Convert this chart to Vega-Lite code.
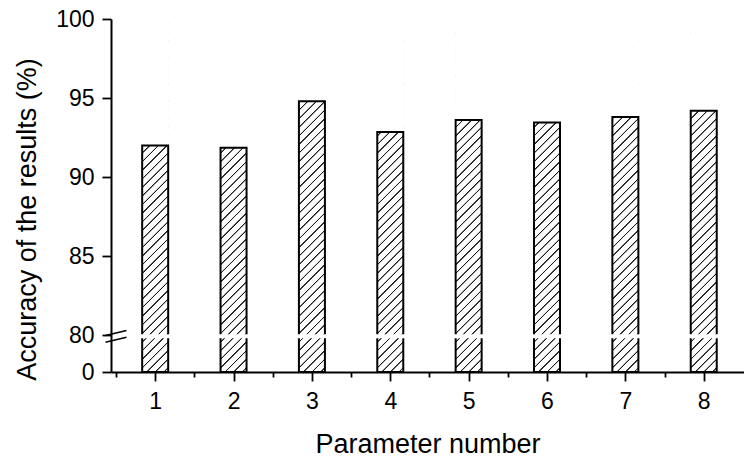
{
  "$schema": "https://vega.github.io/schema/vega-lite/v6.json",
  "width": 633,
  "height": 353,
  "autosize": {"type": "none"},
  "padding": {"left": 111, "top": 19, "right": 0, "bottom": 89},
  "background": "white",
  "config": {
    "view": {"stroke": null},
    "font": "Liberation Sans",
    "axis": {
      "domainColor": "black",
      "domainWidth": 2,
      "tickColor": "black",
      "tickWidth": 1.8,
      "labelColor": "black",
      "titleColor": "black",
      "labelFont": "Liberation Sans",
      "titleFont": "Liberation Sans",
      "titleFontWeight": "normal",
      "labelFontSize": 23,
      "titleFontSize": 27,
      "grid": false,
      "labelOverlap": false,
      "labelBound": false,
      "labelFlush": false
    }
  },
  "data": {
    "values": [
      {"param": 1, "acc": 92.0},
      {"param": 2, "acc": 91.85},
      {"param": 3, "acc": 94.8},
      {"param": 4, "acc": 92.85},
      {"param": 5, "acc": 93.6},
      {"param": 6, "acc": 93.45},
      {"param": 7, "acc": 93.8},
      {"param": 8, "acc": 94.2}
    ]
  },
  "encoding": {
    "x": {
      "field": "param",
      "type": "quantitative",
      "scale": {"domain": [0.5, 8.45], "nice": false, "zero": false},
      "axis": {
        "title": "Parameter number",
        "values": [0.5, 1, 1.5, 2, 2.5, 3, 3.5, 4, 4.5, 5, 5.5, 6, 6.5, 7, 7.5, 8],
        "labelExpr": "datum.value % 1 == 0 ? format(datum.value, 'd') : ''",
        "tickSize": {"condition": {"test": "datum.value % 1 == 0", "value": 9}, "value": 5},
        "labelBaseline": "alphabetic",
        "labelPadding": 27,
        "titleBaseline": "alphabetic",
        "titleY": 80
      }
    }
  },
  "layer": [
    {
      "mark": {
        "type": "bar",
        "width": 26,
        "fill": {
          "gradient": "linear",
          "x1": 0, "y1": 0, "x2": 0.081, "y2": 1.1,
          "stops": [
            {"offset": 0, "color": "#fff"},
            {"offset": 0.011, "color": "#fff"}, {"offset": 0.0125, "color": "#1a1a1a"}, {"offset": 0.0148, "color": "#1a1a1a"}, {"offset": 0.0163, "color": "#fff"},
            {"offset": 0.033, "color": "#fff"}, {"offset": 0.0345, "color": "#1a1a1a"}, {"offset": 0.0368, "color": "#1a1a1a"}, {"offset": 0.0383, "color": "#fff"},
            {"offset": 0.055, "color": "#fff"}, {"offset": 0.0565, "color": "#1a1a1a"}, {"offset": 0.0588, "color": "#1a1a1a"}, {"offset": 0.0603, "color": "#fff"},
            {"offset": 0.077, "color": "#fff"}, {"offset": 0.0785, "color": "#1a1a1a"}, {"offset": 0.0808, "color": "#1a1a1a"}, {"offset": 0.0823, "color": "#fff"},
            {"offset": 0.099, "color": "#fff"}, {"offset": 0.1005, "color": "#1a1a1a"}, {"offset": 0.1028, "color": "#1a1a1a"}, {"offset": 0.1043, "color": "#fff"},
            {"offset": 0.121, "color": "#fff"}, {"offset": 0.1225, "color": "#1a1a1a"}, {"offset": 0.1248, "color": "#1a1a1a"}, {"offset": 0.1263, "color": "#fff"},
            {"offset": 0.143, "color": "#fff"}, {"offset": 0.1445, "color": "#1a1a1a"}, {"offset": 0.1468, "color": "#1a1a1a"}, {"offset": 0.1483, "color": "#fff"},
            {"offset": 0.165, "color": "#fff"}, {"offset": 0.1665, "color": "#1a1a1a"}, {"offset": 0.1688, "color": "#1a1a1a"}, {"offset": 0.1703, "color": "#fff"},
            {"offset": 0.187, "color": "#fff"}, {"offset": 0.1885, "color": "#1a1a1a"}, {"offset": 0.1908, "color": "#1a1a1a"}, {"offset": 0.1923, "color": "#fff"},
            {"offset": 0.209, "color": "#fff"}, {"offset": 0.2105, "color": "#1a1a1a"}, {"offset": 0.2128, "color": "#1a1a1a"}, {"offset": 0.2143, "color": "#fff"},
            {"offset": 0.231, "color": "#fff"}, {"offset": 0.2325, "color": "#1a1a1a"}, {"offset": 0.2348, "color": "#1a1a1a"}, {"offset": 0.2363, "color": "#fff"},
            {"offset": 0.253, "color": "#fff"}, {"offset": 0.2545, "color": "#1a1a1a"}, {"offset": 0.2568, "color": "#1a1a1a"}, {"offset": 0.2583, "color": "#fff"},
            {"offset": 0.275, "color": "#fff"}, {"offset": 0.2765, "color": "#1a1a1a"}, {"offset": 0.2788, "color": "#1a1a1a"}, {"offset": 0.2803, "color": "#fff"},
            {"offset": 0.297, "color": "#fff"}, {"offset": 0.2985, "color": "#1a1a1a"}, {"offset": 0.3008, "color": "#1a1a1a"}, {"offset": 0.3023, "color": "#fff"},
            {"offset": 0.319, "color": "#fff"}, {"offset": 0.3205, "color": "#1a1a1a"}, {"offset": 0.3228, "color": "#1a1a1a"}, {"offset": 0.3243, "color": "#fff"},
            {"offset": 0.341, "color": "#fff"}, {"offset": 0.3425, "color": "#1a1a1a"}, {"offset": 0.3448, "color": "#1a1a1a"}, {"offset": 0.3463, "color": "#fff"},
            {"offset": 0.363, "color": "#fff"}, {"offset": 0.3645, "color": "#1a1a1a"}, {"offset": 0.3668, "color": "#1a1a1a"}, {"offset": 0.3683, "color": "#fff"},
            {"offset": 0.385, "color": "#fff"}, {"offset": 0.3865, "color": "#1a1a1a"}, {"offset": 0.3888, "color": "#1a1a1a"}, {"offset": 0.3903, "color": "#fff"},
            {"offset": 0.407, "color": "#fff"}, {"offset": 0.4085, "color": "#1a1a1a"}, {"offset": 0.4108, "color": "#1a1a1a"}, {"offset": 0.4123, "color": "#fff"},
            {"offset": 0.429, "color": "#fff"}, {"offset": 0.4305, "color": "#1a1a1a"}, {"offset": 0.4328, "color": "#1a1a1a"}, {"offset": 0.4343, "color": "#fff"},
            {"offset": 0.451, "color": "#fff"}, {"offset": 0.4525, "color": "#1a1a1a"}, {"offset": 0.4548, "color": "#1a1a1a"}, {"offset": 0.4563, "color": "#fff"},
            {"offset": 0.473, "color": "#fff"}, {"offset": 0.4745, "color": "#1a1a1a"}, {"offset": 0.4768, "color": "#1a1a1a"}, {"offset": 0.4783, "color": "#fff"},
            {"offset": 0.495, "color": "#fff"}, {"offset": 0.4965, "color": "#1a1a1a"}, {"offset": 0.4988, "color": "#1a1a1a"}, {"offset": 0.5003, "color": "#fff"},
            {"offset": 0.517, "color": "#fff"}, {"offset": 0.5185, "color": "#1a1a1a"}, {"offset": 0.5208, "color": "#1a1a1a"}, {"offset": 0.5223, "color": "#fff"},
            {"offset": 0.539, "color": "#fff"}, {"offset": 0.5405, "color": "#1a1a1a"}, {"offset": 0.5428, "color": "#1a1a1a"}, {"offset": 0.5443, "color": "#fff"},
            {"offset": 0.561, "color": "#fff"}, {"offset": 0.5625, "color": "#1a1a1a"}, {"offset": 0.5648, "color": "#1a1a1a"}, {"offset": 0.5663, "color": "#fff"},
            {"offset": 0.583, "color": "#fff"}, {"offset": 0.5845, "color": "#1a1a1a"}, {"offset": 0.5868, "color": "#1a1a1a"}, {"offset": 0.5883, "color": "#fff"},
            {"offset": 0.605, "color": "#fff"}, {"offset": 0.6065, "color": "#1a1a1a"}, {"offset": 0.6088, "color": "#1a1a1a"}, {"offset": 0.6103, "color": "#fff"},
            {"offset": 0.627, "color": "#fff"}, {"offset": 0.6285, "color": "#1a1a1a"}, {"offset": 0.6308, "color": "#1a1a1a"}, {"offset": 0.6323, "color": "#fff"},
            {"offset": 0.649, "color": "#fff"}, {"offset": 0.6505, "color": "#1a1a1a"}, {"offset": 0.6528, "color": "#1a1a1a"}, {"offset": 0.6543, "color": "#fff"},
            {"offset": 0.671, "color": "#fff"}, {"offset": 0.6725, "color": "#1a1a1a"}, {"offset": 0.6748, "color": "#1a1a1a"}, {"offset": 0.6763, "color": "#fff"},
            {"offset": 0.693, "color": "#fff"}, {"offset": 0.6945, "color": "#1a1a1a"}, {"offset": 0.6968, "color": "#1a1a1a"}, {"offset": 0.6983, "color": "#fff"},
            {"offset": 0.715, "color": "#fff"}, {"offset": 0.7165, "color": "#1a1a1a"}, {"offset": 0.7188, "color": "#1a1a1a"}, {"offset": 0.7203, "color": "#fff"},
            {"offset": 0.737, "color": "#fff"}, {"offset": 0.7385, "color": "#1a1a1a"}, {"offset": 0.7408, "color": "#1a1a1a"}, {"offset": 0.7423, "color": "#fff"},
            {"offset": 0.759, "color": "#fff"}, {"offset": 0.7605, "color": "#1a1a1a"}, {"offset": 0.7628, "color": "#1a1a1a"}, {"offset": 0.7643, "color": "#fff"},
            {"offset": 0.781, "color": "#fff"}, {"offset": 0.7825, "color": "#1a1a1a"}, {"offset": 0.7848, "color": "#1a1a1a"}, {"offset": 0.7863, "color": "#fff"},
            {"offset": 0.803, "color": "#fff"}, {"offset": 0.8045, "color": "#1a1a1a"}, {"offset": 0.8068, "color": "#1a1a1a"}, {"offset": 0.8083, "color": "#fff"},
            {"offset": 0.825, "color": "#fff"}, {"offset": 0.8265, "color": "#1a1a1a"}, {"offset": 0.8288, "color": "#1a1a1a"}, {"offset": 0.8303, "color": "#fff"},
            {"offset": 0.847, "color": "#fff"}, {"offset": 0.8485, "color": "#1a1a1a"}, {"offset": 0.8508, "color": "#1a1a1a"}, {"offset": 0.8523, "color": "#fff"},
            {"offset": 0.869, "color": "#fff"}, {"offset": 0.8705, "color": "#1a1a1a"}, {"offset": 0.8728, "color": "#1a1a1a"}, {"offset": 0.8743, "color": "#fff"},
            {"offset": 0.891, "color": "#fff"}, {"offset": 0.8925, "color": "#1a1a1a"}, {"offset": 0.8948, "color": "#1a1a1a"}, {"offset": 0.8963, "color": "#fff"},
            {"offset": 0.913, "color": "#fff"}, {"offset": 0.9145, "color": "#1a1a1a"}, {"offset": 0.9168, "color": "#1a1a1a"}, {"offset": 0.9183, "color": "#fff"},
            {"offset": 0.935, "color": "#fff"}, {"offset": 0.9365, "color": "#1a1a1a"}, {"offset": 0.9388, "color": "#1a1a1a"}, {"offset": 0.9403, "color": "#fff"},
            {"offset": 0.957, "color": "#fff"}, {"offset": 0.9585, "color": "#1a1a1a"}, {"offset": 0.9608, "color": "#1a1a1a"}, {"offset": 0.9623, "color": "#fff"},
            {"offset": 0.979, "color": "#fff"}, {"offset": 0.9805, "color": "#1a1a1a"}, {"offset": 0.9828, "color": "#1a1a1a"}, {"offset": 0.9843, "color": "#fff"},
            {"offset": 1, "color": "#fff"}
          ]
        }
      },
      "encoding": {
        "y": {
          "datum": 100,
          "type": "quantitative",
          "scale": {"domain": [0, 80, 100], "range": [353, 316, 0], "nice": false, "zero": false},
          "axis": {
            "title": "Accuracy of the results (%)",
            "values": [0, 40, 80, 82.5, 85, 87.5, 90, 92.5, 95, 97.5, 100],
            "labelExpr": "datum.value % 5 == 0 && datum.value != 40 ? datum.label : ''",
            "tickSize": {"condition": {"test": "datum.value % 5 == 0 && datum.value != 40", "value": 9}, "value": 5},
            "labelPadding": 8,
            "titleAngle": -90,
            "titleBaseline": "alphabetic",
            "titleAlign": "center",
            "titleX": -76,
            "titleY": 200
          }
        },
        "y2": {"datum": 0}
      }
    },
    {
      "mark": {"type": "bar", "width": 27, "fill": "white", "stroke": null},
      "encoding": {
        "y": {"field": "acc", "type": "quantitative"},
        "y2": {"datum": 100}
      }
    },
    {
      "mark": {"type": "bar", "width": 26, "fill": "transparent", "stroke": "black", "strokeWidth": 2},
      "encoding": {
        "y": {"field": "acc", "type": "quantitative"},
        "y2": {"datum": 0}
      }
    },
    {
      "transform": [{"filter": "datum.param == 1"}],
      "mark": {"type": "rect", "fill": "white", "strokeWidth": 0},
      "encoding": {
        "x": {"datum": 0.47, "type": "quantitative"},
        "x2": {"datum": 8.45},
        "y": {"datum": 73, "type": "quantitative"},
        "y2": {"datum": 80.05}
      }
    },
    {
      "transform": [{"filter": "datum.param == 1"}],
      "mark": {
        "type": "point",
        "shape": "M-1,-0.08L1,-0.56M-1,0.56L1,0.08",
        "size": 441,
        "filled": false,
        "stroke": "black",
        "strokeWidth": 1.5,
        "opacity": 1
      },
      "encoding": {
        "x": {"datum": 0.5, "type": "quantitative"},
        "y": {"datum": 77.1, "type": "quantitative"}
      }
    }
  ]
}
